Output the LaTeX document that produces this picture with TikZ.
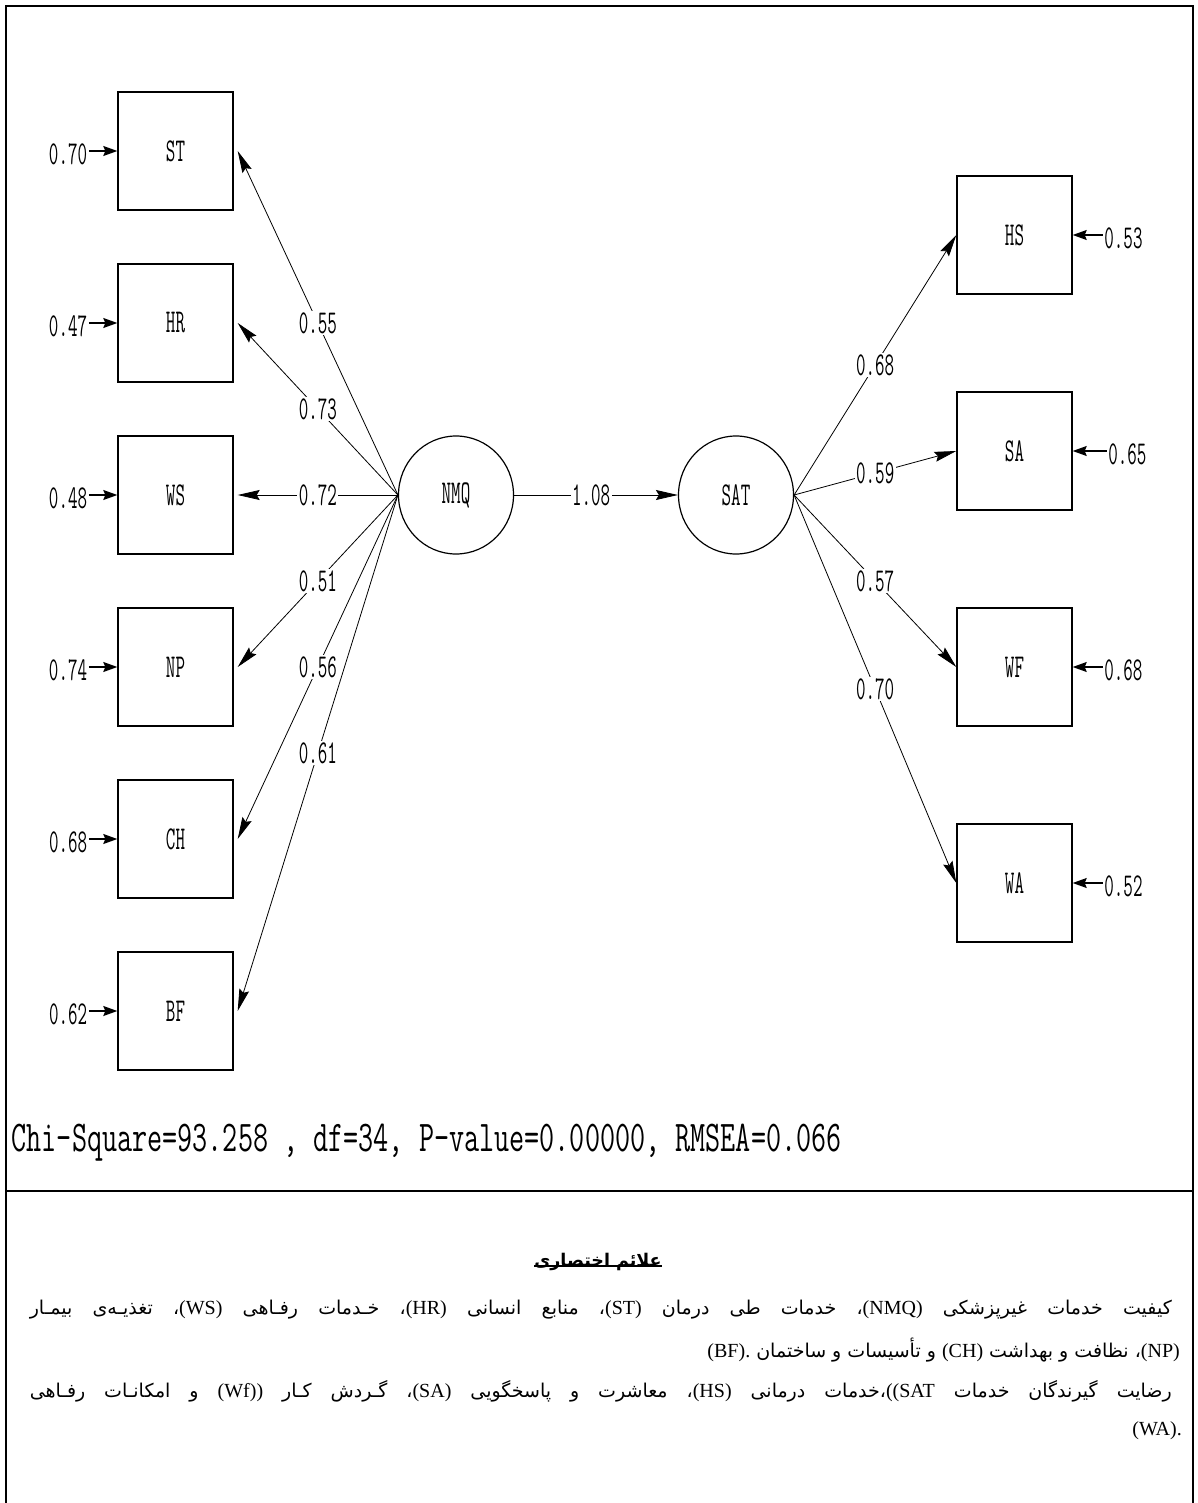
\documentclass[tikz,border=0pt]{standalone}
\usepackage{fontspec}
\usepackage{graphicx}
\usetikzlibrary{arrows.meta,shapes.geometric}
\setmainfont{Liberation Serif}
\newfontfamily\fafont[Script=Arabic]{DejaVu Sans}
\newfontfamily\latfont{Liberation Serif}
\TeXXeTstate=1
\newcommand\tall[1]{\scalebox{1}[1.8]{#1}}
\newcommand\ltr[1]{\beginL{\latfont\fontsize{20}{22}\selectfont #1}\endL}
\begin{document}
\begin{tikzpicture}[x=1pt,y=-1pt,
  obs/.style={draw, line width=1.4pt, minimum width=115pt, minimum height=118pt, inner sep=0pt,
    font=\ttfamily\fontsize{18.5}{18.5}\selectfont},
  lat/.style={draw, ellipse, line width=1.2pt, minimum width=115pt, minimum height=118pt, inner sep=0pt,
    font=\ttfamily\fontsize{18.5}{18.5}\selectfont},
  wt/.style={fill=white, inner sep=1.5pt, font=\ttfamily\fontsize{18.5}{18.5}\selectfont},
  lab/.style={inner sep=1.5pt, font=\ttfamily\fontsize{18.5}{18.5}\selectfont},
  pth/.style={line width=0.8pt, -{Stealth[length=22pt,width=10pt,inset=3pt]}},
  err/.style={line width=1.2pt, -{Stealth[length=14pt,width=10pt,inset=2pt]}},
  frame/.style={line width=2pt},
  fa/.style={inner sep=0pt, font=\fafont\fontsize{19}{22}\selectfont}
]
\useasboundingbox (0,0) rectangle (1197,1503);

% frame
\draw[frame] (6,1503) -- (6,6) -- (1193,6) -- (1193,1503);
\draw[line width=1.2pt] (6,1191) -- (1193,1191);
\draw[line width=2.6pt] (1158,1191) -- (1193,1191);

% left indicators
\node[obs] (ST) at (175.5,151) {\tall{ST}};
\node[obs] (HR) at (175.5,323) {\tall{HR}};
\node[obs] (WS) at (175.5,495) {\tall{WS}};
\node[obs] (NP) at (175.5,667) {\tall{NP}};
\node[obs] (CH) at (175.5,839) {\tall{CH}};
\node[obs] (BF) at (175.5,1011) {\tall{BF}};

% right indicators
\node[obs] (HS) at (1014.5,235) {\tall{HS}};
\node[obs] (SA) at (1014.5,451) {\tall{SA}};
\node[obs] (WF) at (1014.5,667) {\tall{WF}};
\node[obs] (WA) at (1014.5,883) {\tall{WA}};

% latent variables
\node[lat] (NMQ) at (456,495) {\tall{NMQ}};
\node[lat] (SAT) at (736,495) {\tall{SAT}};

% error terms left
\foreach \n/\v in {ST/0.70, HR/0.47, WS/0.48, NP/0.74, CH/0.68, BF/0.62}{
  \node[lab, anchor=east] (e\n) at ([xshift=-28.5pt,yshift=-3pt]\n.west) {\tall{\v}};
  \draw[err] (e\n.east |- \n.west) -- (\n.west);
}
% error terms right
\foreach \n/\v/\g in {HS/0.53/30, SA/0.65/34, WF/0.68/30, WA/0.52/30}{
  \node[lab, anchor=west] (e\n) at ([xshift=\g pt,yshift=-3pt]\n.east) {\tall{\v}};
  \draw[err] (e\n.west |- \n.east) -- (\n.east);
}

% loadings NMQ
\coordinate (nl) at (NMQ.west);
\draw[pth] (nl) -- ([xshift=4pt]ST.east) node[wt,pos=0.5] {\tall{0.55}};
\draw[pth] (nl) -- ([xshift=4pt]HR.east) node[wt,pos=0.5] {\tall{0.73}};
\draw[pth] (nl) -- ([xshift=4pt]WS.east) node[wt,pos=0.5] {\tall{0.72}};
\draw[pth] (nl) -- ([xshift=4pt]NP.east) node[wt,pos=0.5] {\tall{0.51}};
\draw[pth] (nl) -- ([xshift=4pt]CH.east) node[wt,pos=0.5] {\tall{0.56}};
\draw[pth] (nl) -- ([xshift=4pt]BF.east) node[wt,pos=0.5] {\tall{0.61}};

% structural path
\draw[pth] (NMQ) -- (SAT) node[wt,pos=0.47] {\tall{1.08}};

% loadings SAT
\coordinate (sr) at (SAT.east);
\draw[pth] (sr) -- (HS.west) node[wt,pos=0.5] {\tall{0.68}};
\draw[pth] (sr) -- (SA.west) node[wt,pos=0.5] {\tall{0.59}};
\draw[pth] (sr) -- (WF.west) node[wt,pos=0.5] {\tall{0.57}};
\draw[pth] (sr) -- (WA.west) node[wt,pos=0.5] {\tall{0.70}};

% fit statistics
\node[lab, anchor=west, font=\ttfamily\fontsize{29.3}{29.3}\selectfont] (fit) at (10,1143)
  {\scalebox{1}[1.5]{Chi-Square=93.258 , df=34, P-value=0.00000, RMSEA=0.066}};

% legend
\node[fa, font=\fafont\bfseries\fontsize{17.5}{20}\selectfont] (title) at (598,1262) {\beginR علائم اختصاری\endR};
\draw[line width=1.2pt] ([yshift=5pt]title.south west) -- ([yshift=5pt]title.south east);

\node[fa, anchor=east] (l1) at (1172,1310) {\hbox to 1142pt{\beginR کیفیت خدمات غیرپزشکی \ltr{(NMQ)}، خدمات طی درمان \ltr{(ST)}، منابع انسانی \ltr{(HR)}، خـدمات رفـاهی \ltr{(WS)}، تغذیـه‌ی بیمـار\endR}};
\node[fa, anchor=east] (l2) at (1180,1350) {\beginR\ltr{(NP)}، نظافت و بهداشت \ltr{(CH)} و تأسیسات و ساختمان \ltr{(BF).}\endR};
\node[fa, anchor=east] (l3) at (1172,1391) {\hbox to 1142pt{\beginR رضایت گیرندگان خدمات \ltr{((SAT}،خدمات درمانی \ltr{(HS)}، معاشرت و پاسخگویی \ltr{(SA)}، گـردش کـار \ltr{(Wf))} و امکانـات رفـاهی\endR}};
\node[fa, anchor=east] (l4) at (1182,1431) {\beginR\ltr{(WA).}\endR};
\end{tikzpicture}
\end{document}
